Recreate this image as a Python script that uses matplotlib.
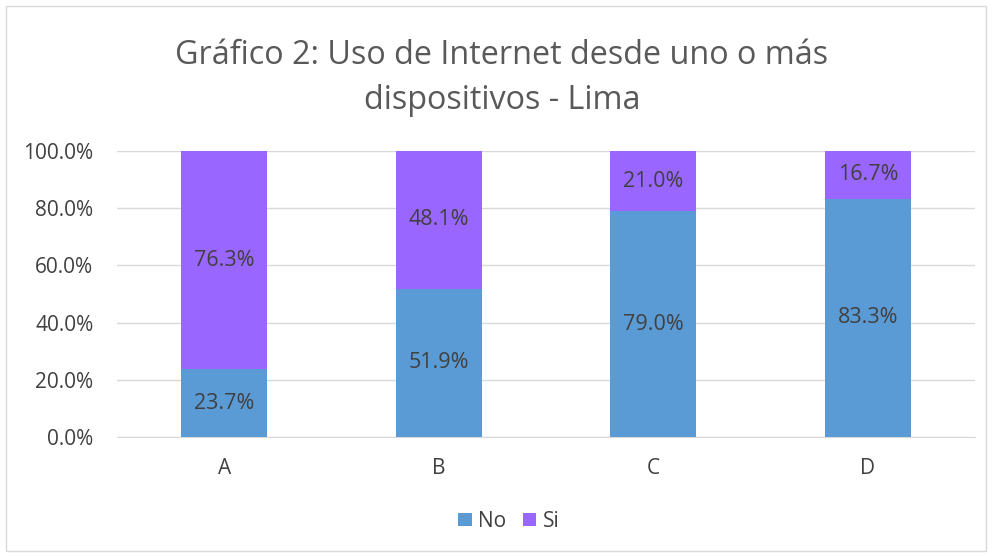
import matplotlib.pyplot as plt
from matplotlib.patches import Rectangle

categories = ['A', 'B', 'C', 'D']
no_vals = [23.7, 51.9, 79.0, 83.3]
si_vals = [76.3, 48.1, 21.0, 16.7]
yticks = [0, 20, 40, 60, 80, 100]

plt.rcParams['font.family'] = ['Open Sans', 'DejaVu Sans']
txt = '#404040'

fig = plt.figure(figsize=(9.92, 5.57), dpi=100)
fig.add_artist(Rectangle((0.006, 0.01), 0.988, 0.98, transform=fig.transFigure,
                         fill=False, edgecolor='#d9d9d9', linewidth=1))
ax = fig.add_axes([0.118, 0.2154, 0.865, 0.5135])

x = range(len(categories))
b1 = ax.bar(x, no_vals, width=0.4, color='#5b9bd5', label='No', zorder=3)
b2 = ax.bar(x, si_vals, width=0.4, bottom=no_vals, color='#9966ff', label='Si', zorder=3)
for bars in (b1, b2):
    ax.bar_label(bars, labels=['%.1f%%' % v for v in bars.datavalues],
                 label_type='center', color=txt, fontsize=15.5)

ax.set_xlim(-0.5, 3.5)
ax.set_ylim(0, 100)
ax.set_yticks(yticks)
ax.set_yticklabels(['%.1f%%' % v for v in yticks])
ax.set_xticks(list(x))
ax.set_xticklabels(categories)
ax.tick_params(axis='both', length=0, labelsize=15, labelcolor=txt)
ax.tick_params(axis='x', pad=15)
ax.tick_params(axis='y', pad=17)
ax.grid(axis='y', color='#d9d9d9', linewidth=1, zorder=0)
for s in ['top', 'right', 'left']:
    ax.spines[s].set_visible(False)
ax.spines['bottom'].set_color('#d9d9d9')

fig.text(0.506, 0.86, 'Gráfico 2: Uso de Internet desde uno o más\ndispositivos - Lima',
         ha='center', va='center', fontsize=23.3, color='#595959', linespacing=1.48)

fig.legend(loc='center', bbox_to_anchor=(0.513, 0.064), ncol=2, frameon=False,
           fontsize=15, labelcolor=txt, handlelength=0.65, handleheight=0.65,
           handletextpad=0.3, columnspacing=0.8)

fig.savefig('out.png', dpi=100)
